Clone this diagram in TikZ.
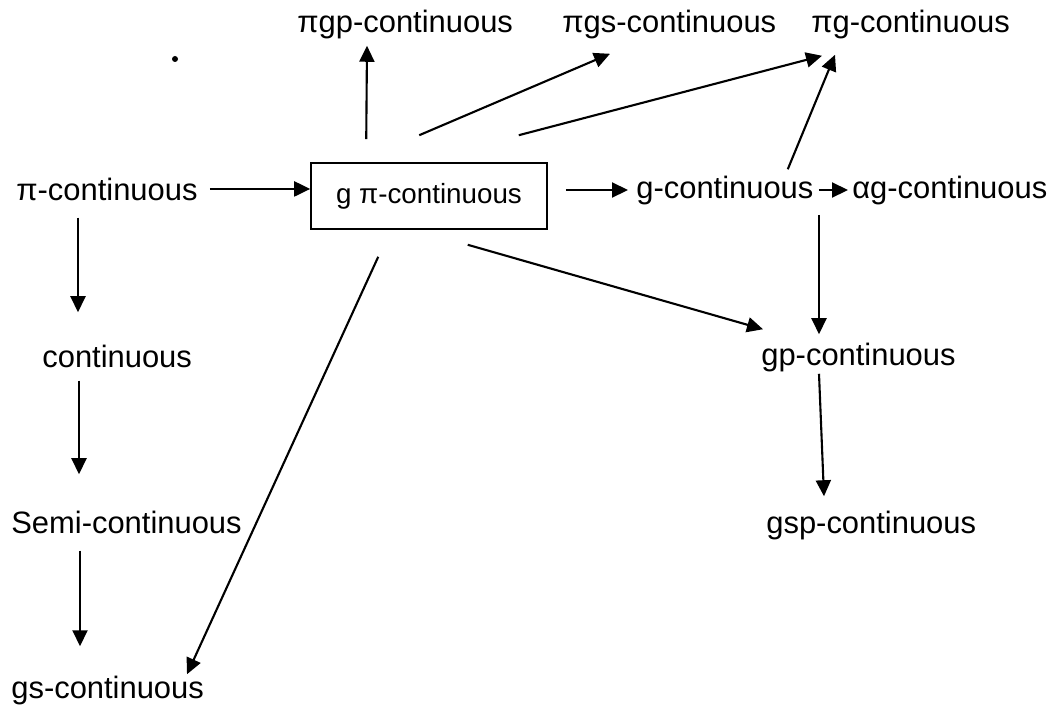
\documentclass[tikz,border=0pt]{standalone}
\usepackage{fontspec}
\setmainfont{Liberation Sans}
\usetikzlibrary{arrows.meta}
\usetikzlibrary{calc}

\begin{document}
\begin{tikzpicture}[x=0.02cm,y=-0.02cm]
% Styles
\tikzstyle{etiq}=[inner sep=0pt,anchor=base west,font=\fontsize{17.6}{20}\selectfont]
\tikzstyle{cadre}=[draw,line width=0.9pt,minimum width=4.72cm,minimum height=1.32cm,font=\fontsize{15.8}{18}\selectfont]
\tikzstyle{fleche}=[-{Triangle[length=0.32cm,width=0.3cm]},line width=1.2pt]
% Cadre de l'image
\useasboundingbox (0,0) rectangle (1058,706);
% Ligne du haut
\node[etiq] (pgp) at (297,33) {πgp-continuous};
\node[etiq] (pgs) at (562,33) {πgs-continuous};
\node[etiq] (pg) at (811,33) {πg-continuous};
% Ligne du milieu
\node[etiq] (pic) at (16,200) {π-continuous};
\node[cadre] (gpi) at (429,196) {g π-continuous};
\node[etiq] (gc) at (636,198) {g-continuous};
\node[etiq] (ag) at (852,198) {αg-continuous};
% Colonnes
\node[etiq] (cont) at (42,367) {continuous};
\node[etiq] (semi) at (11,533) {Semi-continuous};
\node[etiq] (gs) at (11,698) {gs-continuous};
\node[etiq] (gp) at (761,365) {gp-continuous};
\node[etiq] (gsp) at (766,533) {gsp-continuous};
% Point
\fill (175,59) circle (3);
% Flèches
\draw[fleche,shorten <=0.24cm] (pic.east) -- (pic.east -| gpi.west);
\draw[fleche,shorten <=0.36cm,shorten >=0.16cm] (gc.west -| gpi.east) -- (gc.west);
\draw[fleche,shorten <=0.1cm,shorten >=0.08cm] (gc.east) -- (ag.west);
\draw[fleche] ($(gpi.north west)+(56,-23)$) -- ($(pgp.south west)+(70,6)$);
\draw[fleche] ($(gpi.north west)+(109,-27)$) -- ($(pgs.south west)+(48,14)$);
\draw[fleche] ($(gpi.north east)+(-29,-27)$) -- ($(pg.south west)+(11,16)$);
\draw[fleche] ($(gc.north east)+(-26,-6)$) -- ($(pg.south west)+(24,15)$);
\draw[fleche] ($(gpi.south east)+(-80,15)$) -- ($(gp.north west)+(2,-13)$);
\draw[fleche] ($(gpi.south west)+(68,27)$) -- ($(gs.north west)+(176,-1)$);
\draw[fleche] ($(gc.south west)+(183,10)$) -- ($(gp.north west)+(58,-8)$);
\draw[fleche] ($(pic.south west)+(62,17)$) -- ($(cont.north west)+(36,-32)$);
\draw[fleche] ($(cont.south west)+(37,13)$) -- ($(semi.north west)+(68,-36)$);
\draw[fleche] ($(semi.south west)+(69,17)$) -- ($(gs.north west)+(69,-29)$);
\draw[fleche] ($(gp.south west)+(58,2)$) -- ($(gsp.north west)+(58,-14)$);
\end{tikzpicture}
\end{document}
